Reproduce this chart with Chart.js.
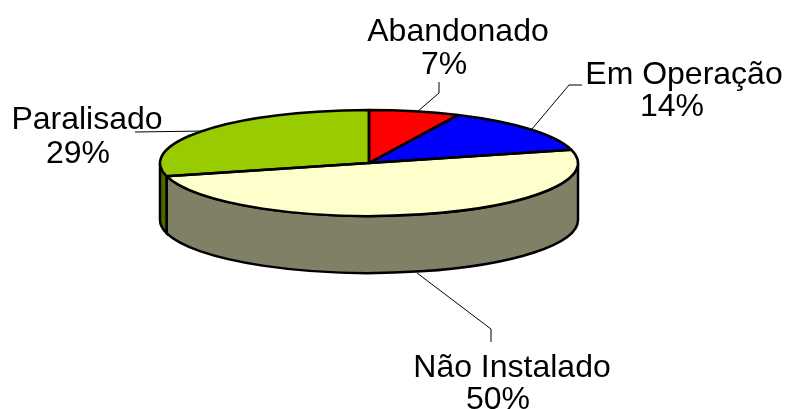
<!DOCTYPE html>
<html>
<head>
<meta charset="utf-8">
<style>
  html, body { margin: 0; padding: 0; background: #fff; }
  canvas { display: block; }
</style>
<script src="https://cdn.jsdelivr.net/npm/chart.js@4"></script>
</head>
<body>
<canvas id="statusChart" width="787" height="409"></canvas>
<script>
// Chart data
const categories = ['Abandonado', 'Em Operação', 'Não Instalado', 'Paralisado'];
const percentages = [7, 14, 50, 29];
const sliceColors = ['#FF0000', '#0000FF', '#FFFFCC', '#99CC00'];
const wallColors = ['#800000', '#000080', '#808066', '#4D6600'];

// Look of the tilted pie
const squash = 53 / 209;
const depth = 57;
const labelFont = '32px "Liberation Sans", Arial, sans-serif';

// Label placement: [name centre x, name baseline, percent centre x, percent baseline]
const labelSpots = [
    [458, 41, 444, 74],
    [684, 84, 672, 116],
    [512, 377, 498, 409],
    [87, 129, 78, 163]
];

// Leader lines from the labels to the pie
const leaders = [
    [[439, 82], [439, 93], [417, 112]],
    [[582, 85], [569, 85], [532, 129]],
    [[491, 342], [491, 329], [417, 273]],
    [[135, 132], [205, 131]]
];

// Squash the y axis around the pie centre
function tilt(ctx, arc) {
    ctx.translate(arc.x, arc.y);
    ctx.scale(1, squash);
    ctx.translate(-arc.x, -arc.y);
}

const tiltedPie = {
    id: 'tiltedPie',
    beforeDatasetsDraw(chart) {
        const ctx = chart.ctx;
        const arcs = chart.getDatasetMeta(0).data;

        // Side walls, only the front half (0 to PI on the canvas) can be seen
        arcs.forEach(function(el, i) {
            const arc = el.getProps(['x', 'y', 'startAngle', 'endAngle', 'outerRadius']);
            const from = Math.max(arc.startAngle, 0);
            const to = Math.min(arc.endAngle, Math.PI);
            if (to <= from) return;

            ctx.save();
            ctx.beginPath();
            ctx.ellipse(arc.x, arc.y, arc.outerRadius, arc.outerRadius * squash, 0, from, to);
            ctx.ellipse(arc.x, arc.y + depth, arc.outerRadius, arc.outerRadius * squash, 0, to, from, true);
            ctx.closePath();
            ctx.fillStyle = wallColors[i];
            ctx.fill();
            ctx.lineWidth = 2.5;
            ctx.strokeStyle = '#000';
            ctx.stroke();
            ctx.restore();
        });

        // The slices themselves get drawn by Chart.js inside this transform
        ctx.save();
        tilt(ctx, arcs[0].getProps(['x', 'y']));
    },
    afterDatasetsDraw(chart) {
        const ctx = chart.ctx;
        ctx.restore();

        // Outlines are stroked after the transform so the line width stays even
        chart.getDatasetMeta(0).data.forEach(function(el) {
            const arc = el.getProps(['x', 'y', 'startAngle', 'endAngle', 'outerRadius']);
            ctx.save();
            ctx.beginPath();
            ctx.moveTo(arc.x, arc.y);
            ctx.ellipse(arc.x, arc.y, arc.outerRadius, arc.outerRadius * squash, 0, arc.startAngle, arc.endAngle);
            ctx.closePath();
            ctx.lineWidth = 2.5;
            ctx.lineJoin = 'round';
            ctx.strokeStyle = '#000';
            ctx.stroke();
            ctx.restore();
        });
    },
    afterDraw(chart) {
        const ctx = chart.ctx;
        ctx.save();

        ctx.strokeStyle = '#000';
        ctx.lineWidth = 1;
        leaders.forEach(function(line) {
            ctx.beginPath();
            line.forEach(function(p, i) {
                if (i === 0) ctx.moveTo(p[0], p[1]);
                else ctx.lineTo(p[0], p[1]);
            });
            ctx.stroke();
        });

        ctx.font = labelFont;
        ctx.fillStyle = '#000';
        ctx.textAlign = 'center';
        ctx.textBaseline = 'alphabetic';
        categories.forEach(function(name, i) {
            const spot = labelSpots[i];
            ctx.fillText(name, spot[0], spot[1]);
            ctx.fillText(percentages[i] + '%', spot[2], spot[3]);
        });
        ctx.restore();
    }
};

new Chart(document.getElementById('statusChart').getContext('2d'), {
    type: 'pie',
    data: {
        labels: categories,
        datasets: [{
            data: percentages,
            backgroundColor: sliceColors,
            borderWidth: 0
        }]
    },
    options: {
        responsive: false,
        animation: false,
        radius: 209,
        layout: { padding: { right: 49, bottom: 83 } },
        plugins: {
            legend: { display: false },
            tooltip: { enabled: false }
        }
    },
    plugins: [tiltedPie]
});
</script>
</body>
</html>
